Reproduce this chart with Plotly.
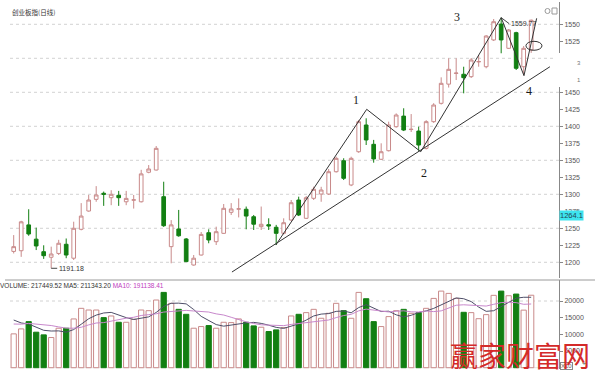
import pandas as pd
import plotly.graph_objects as go

# ---- daily candles of the index (open / high / low / close) ----
opens = [1216, 1217, 1255, 1234, 1215.6, 1207.4, 1213, 1226.5, 1206, 1248.5,
         1275.4, 1292.6, 1301.5, 1295, 1298.5, 1289, 1291.4, 1289, 1332.4, 1335.7,
         1296.5, 1223, 1249, 1234.3, 1196, 1210.7, 1243.5, 1230.3, 1242.6, 1273.5,
         1278.2, 1278, 1267, 1252.4, 1255.3, 1251.5, 1242.6, 1262.2, 1291.6, 1264.7,
         1294.1, 1300.4, 1300.4, 1333.2, 1349.4, 1313.7, 1362.6, 1401.9, 1373.5, 1351.5,
         1364.1, 1399.4, 1415, 1395.2, 1393, 1367.6, 1406.8, 1433.8, 1462, 1477.8,
         1476.5, 1473, 1494.8, 1487.6, 1527, 1550.4, 1514.7, 1537.7, 1487.6, 1512.2]
highs = [1240, 1261, 1278, 1251, 1225, 1223, 1233, 1235, 1259.7, 1287,
         1299, 1312, 1304, 1306, 1305, 1305, 1299, 1336, 1343, 1371,
         1318.5, 1262, 1277, 1235.7, 1210.7, 1244.5, 1248.5, 1252.4, 1285.7, 1287,
         1294, 1282, 1269.6, 1282, 1264.7, 1255, 1264.7, 1291.6, 1296.5, 1297.5,
         1311.2, 1311, 1337.2, 1355.3, 1353, 1355.3, 1409.3, 1411.8, 1380, 1375,
         1406.8, 1419, 1426.5, 1418, 1399.4, 1409, 1434, 1472, 1500, 1500,
         1487.6, 1500.4, 1504.9, 1534, 1557.8, 1559.77, 1543, 1539, 1518, 1557]
lows = [1213, 1208, 1239, 1218, 1205, 1191.18, 1210.7, 1206, 1203.4, 1247,
        1274.4, 1289, 1283, 1284, 1283, 1284, 1279, 1288, 1331, 1335,
        1252, 1198.5, 1237.6, 1200.4, 1195, 1210, 1228, 1225.4, 1242, 1269.6,
        1266, 1248.5, 1247.5, 1247.5, 1247.5, 1225.4, 1241, 1261, 1268, 1263.7,
        1291.6, 1289, 1299, 1332, 1321, 1312, 1361, 1372.5, 1346.5, 1350.4,
        1363, 1398, 1393, 1391.6, 1364, 1366, 1405, 1432, 1457, 1468,
        1448.5, 1471, 1487.6, 1485.3, 1525.4, 1507.4, 1513.7, 1482.8, 1475, 1508]
closes = [1223, 1259.5, 1241.6, 1224, 1209.7, 1212.2, 1228, 1210.7, 1250, 1268,
          1291.6, 1299, 1300, 1300, 1295, 1294, 1291.8, 1330, 1337.2, 1367.6,
          1253.8, 1255, 1239, 1201, 1206, 1241, 1232.8, 1245, 1279.4, 1278.4,
          1278.6, 1268, 1256, 1255.9, 1253.4, 1242.6, 1258.2, 1287.6, 1269.6, 1295,
          1307.4, 1306.3, 1333.2, 1352.9, 1323.5, 1352.9, 1406.8, 1379.9, 1352, 1362.6,
          1401.9, 1416.6, 1394.5, 1395.6, 1372.5, 1406.8, 1431.3, 1463.2, 1483.8, 1478.2,
          1471.5, 1497.5, 1495.2, 1532.8, 1553.8, 1527, 1541.6, 1485.3, 1514.7, 1556]

# ---- daily volume (axis shows it divided by 10) ----
volume = [101500, 116400, 138200, 106500, 98500, 90500, 118400, 118400, 146300, 178100,
          173100, 173100, 150200, 155200, 136300, 136300, 145300, 173100, 171100, 203000,
          225900, 193100, 175100, 160200, 118400, 123400, 126400, 118400, 136300, 135300,
          146300, 136300, 125400, 121400, 108500, 113400, 120400, 155200, 160200, 165200,
          175100, 148300, 163200, 193100, 171100, 148300, 225900, 206900, 138200, 123400,
          153300, 171100, 175100, 163200, 165200, 178100, 207900, 229800, 222900, 207900,
          166200, 165200, 147000, 159200, 217068.1, 229800, 215900, 220900, 172666.48, 217449.52]
# sessions just before the first candle, used to seed the moving averages
vol_prior = [120000, 115000, 125000, 118000, 117000, 160000, 155000, 148500, 150000]
VOL_SCALE = 10

price_ticks = [1200, 1225, 1250, 1275, 1300, 1325, 1350, 1375, 1400, 1425, 1450, 1525, 1550]
price_grid = [1200, 1250, 1300, 1350, 1400, 1450, 1500, 1550]
vol_ticks = [5000, 10000, 15000, 20000]

# hand-drawn wave line and support line (index, price)
wave_x = [34.95, 47.07, 54.27, 65, 68.04, 69.73]
wave_y = [1225.4, 1425, 1362.6, 1559.77, 1474.5, 1558.8]
support_x = [29.1, 71.5]
support_y = [1185.7, 1487.6]
wave_labels = ["1", "2", "3", "4"]
wave_label_x = [45.6, 54.68, 59.07, 68.75]
wave_label_y = [1438.7, 1330.9, 1560.3, 1452.4]
cursor_price = 1264.1

idx = list(range(len(opens)))
UP = "#c98a8a"
DOWN = "#127f12"
is_up = [c >= o for o, c in zip(opens, closes)]

vol_all = pd.Series(vol_prior + volume) / VOL_SCALE
n0 = len(vol_prior)
ma5 = vol_all.rolling(5).mean().iloc[n0:].tolist()
ma10 = vol_all.rolling(10).mean().iloc[n0:].tolist()
vol_axis = [v / VOL_SCALE for v in volume]

fig = go.Figure()

fig.add_trace(go.Candlestick(
    x=idx, open=opens, high=highs, low=lows, close=closes,
    increasing=dict(line=dict(color=UP, width=1), fillcolor="white"),
    decreasing=dict(line=dict(color=DOWN, width=1), fillcolor=DOWN),
    whiskerwidth=0, xaxis="x", yaxis="y", showlegend=False, hoverinfo="skip"))

fig.add_trace(go.Scatter(x=support_x, y=support_y, mode="lines",
                         line=dict(color="#333333", width=1), xaxis="x", yaxis="y",
                         showlegend=False, hoverinfo="skip"))
fig.add_trace(go.Scatter(x=wave_x, y=wave_y, mode="lines",
                         line=dict(color="#333333", width=1), xaxis="x", yaxis="y",
                         showlegend=False, hoverinfo="skip"))

fig.add_trace(go.Bar(
    x=idx, y=vol_axis, width=0.7,
    marker=dict(color=["white" if u else DOWN for u in is_up],
                line=dict(color=[UP if u else DOWN for u in is_up], width=1)),
    xaxis="x2", yaxis="y2", showlegend=False, hoverinfo="skip"))
fig.add_trace(go.Scatter(x=idx, y=ma5, mode="lines", line=dict(color="#4e4e68", width=1),
                         xaxis="x2", yaxis="y2", showlegend=False, hoverinfo="skip"))
fig.add_trace(go.Scatter(x=idx, y=ma10, mode="lines", line=dict(color="#c888cc", width=1),
                         xaxis="x2", yaxis="y2", showlegend=False, hoverinfo="skip"))

W, H = 600, 379
L, R, T, B = 10, 41, 2, 10
plot_w = W - L - R
plot_h = H - T - B


def px(xp):
    return (xp - L) / plot_w


def py(yp):
    return (H - B - yp) / plot_h


XR = [-0.493, 72.71]
tick_font = dict(family="Liberation Sans, Arial", size=7, color="#555555")

fig.update_layout(
    width=W, height=H, margin=dict(l=L, r=R, t=T, b=B),
    paper_bgcolor="white", plot_bgcolor="white",
    xaxis=dict(domain=[0, 1], range=XR, visible=False, rangeslider=dict(visible=False),
               anchor="y"),
    yaxis=dict(domain=[py(278), 1], range=[1176.9, 1582.8], side="right",
               tickvals=price_ticks, ticktext=[str(v) for v in price_ticks],
               ticks="outside", ticklen=3, tickcolor="#888888",
               showline=True, linecolor="#888888", linewidth=1, showgrid=False,
               zeroline=False, tickfont=tick_font, anchor="x"),
    xaxis2=dict(domain=[0, 1], range=XR, visible=False, anchor="y2", matches="x"),
    yaxis2=dict(domain=[0, py(280)], range=[-390, 26310], side="right",
                tickvals=vol_ticks, ticktext=[str(v) for v in vol_ticks],
                ticks="outside", ticklen=3, tickcolor="#888888",
                showline=True, linecolor="#888888", linewidth=1, showgrid=False,
                zeroline=False, tickfont=tick_font, anchor="x2"),
    bargap=0.3,
)

shapes = []
for g in price_grid:
    shapes.append(dict(type="line", xref="paper", yref="y", x0=0, x1=1, y0=g, y1=g,
                       line=dict(color="#d2d2d2", width=1, dash="dot"), layer="below"))
shapes.append(dict(type="line", xref="paper", yref="y2", x0=0, x1=1, y0=20000, y1=20000,
                   line=dict(color="#d2d2d2", width=1, dash="dot"), layer="below"))
shapes.append(dict(type="line", xref="paper", yref="y2", x0=0, x1=1, y0=0, y1=0,
                   line=dict(color="#e2e2e2", width=1), layer="below"))
# panel separator
shapes.append(dict(type="line", xref="paper", yref="paper", x0=px(5), x1=px(595),
                   y0=py(280), y1=py(280), line=dict(color="#9a9a9a", width=1)))
# blank patch over the axis near 1475-1500
shapes.append(dict(type="rect", xref="paper", yref="paper", x0=px(555), x1=px(581),
                   y0=py(87), y1=py(53), fillcolor="white", line=dict(width=0),
                   layer="above"))
# hand-drawn loop near the last candle
shapes.append(dict(type="circle", xref="x", yref="y", x0=68.3, x1=70.44,
                   y0=1511.8, y1=1525, line=dict(color="#333333", width=1)))
# toolbar icons
shapes.append(dict(type="circle", xref="paper", yref="paper", x0=px(545), x1=px(550),
                   y0=py(13.5), y1=py(8.5), line=dict(color="#999999", width=1)))
shapes.append(dict(type="rect", xref="paper", yref="paper", x0=px(552), x1=px(557),
                   y0=py(14), y1=py(8), line=dict(color="#999999", width=1)))
fig.update_layout(shapes=shapes)

ann = []
ann.append(dict(xref="paper", yref="paper", x=0, y=py(11.7), xanchor="left",
                yanchor="middle", showarrow=False, text="创业板指(日线)",
                font=dict(family="Noto Sans CJK SC", size=6.5, color="#333333")))
ann.append(dict(xref="paper", yref="paper", x=px(-2), y=py(285), xanchor="left",
                yanchor="middle", showarrow=False,
                text=("VOLUME: %.2f MA5: %.2f <span style='color:#c040c0'>MA10: %.2f</span>"
                      % (volume[-1], ma5[-1] * VOL_SCALE, ma10[-1] * VOL_SCALE)),
                font=dict(family="Liberation Sans, Arial", size=6.5, color="#333333")))
hi_i = highs.index(max(highs))
lo_i = lows.index(min(lows))
ann.append(dict(xref="x", yref="y", x=hi_i, y=highs[hi_i], text="%.2f" % highs[hi_i],
                showarrow=True, arrowhead=0, arrowwidth=1, arrowcolor="#444444",
                ax=8, ay=6, xanchor="left", yanchor="middle", standoff=0,
                font=dict(family="Liberation Sans, Arial", size=7, color="#333333")))
ann.append(dict(xref="x", yref="y", x=lo_i, y=lows[lo_i], text="%.2f" % lows[lo_i],
                showarrow=True, arrowhead=0, arrowwidth=1, arrowcolor="#444444",
                ax=6, ay=0, xanchor="left", yanchor="middle", standoff=0,
                font=dict(family="Liberation Sans, Arial", size=7, color="#333333")))
for t, lx, ly in zip(wave_labels, wave_label_x, wave_label_y):
    ann.append(dict(xref="x", yref="y", x=lx, y=ly, text=t, showarrow=False,
                    font=dict(family="Liberation Serif, DejaVu Serif", size=12,
                              color="#1a1a1a")))
ann.append(dict(xref="paper", yref="y", x=1, y=cursor_price, text="%.1f" % cursor_price,
                showarrow=False, xanchor="left", yanchor="middle", yshift=3,
                bgcolor="#3ee4ee", borderpad=0,
                font=dict(family="Liberation Sans, Arial", size=7.5, color="#224455")))
ann.append(dict(xref="paper", yref="paper", x=px(583), y=py(58), text="3",
                showarrow=False, font=dict(family="Liberation Sans, Arial", size=6,
                                           color="#777777")))
ann.append(dict(xref="paper", yref="paper", x=px(583), y=py(75), text="1",
                showarrow=False, font=dict(family="Liberation Sans, Arial", size=6,
                                           color="#777777")))
ann.append(dict(xref="paper", yref="paper", x=px(559.5), y=py(365.5), text="X10",
                showarrow=False, xanchor="left", yanchor="middle", bordercolor="#888888",
                borderwidth=1, borderpad=0,
                font=dict(family="Liberation Sans, Arial", size=6, color="#666666")))
ann.append(dict(xref="paper", yref="paper", x=px(588), y=py(369), text="+",
                showarrow=False, font=dict(family="Liberation Sans, Arial", size=7,
                                           color="#555555")))
ann.append(dict(xref="paper", yref="paper", x=px(520), y=py(355), text="赢家财富网",
                showarrow=False, xanchor="center", yanchor="middle",
                font=dict(family="Noto Sans CJK SC", size=28, color="#d42a2a")))
fig.update_layout(annotations=ann)

fig.write_html("out.html")
